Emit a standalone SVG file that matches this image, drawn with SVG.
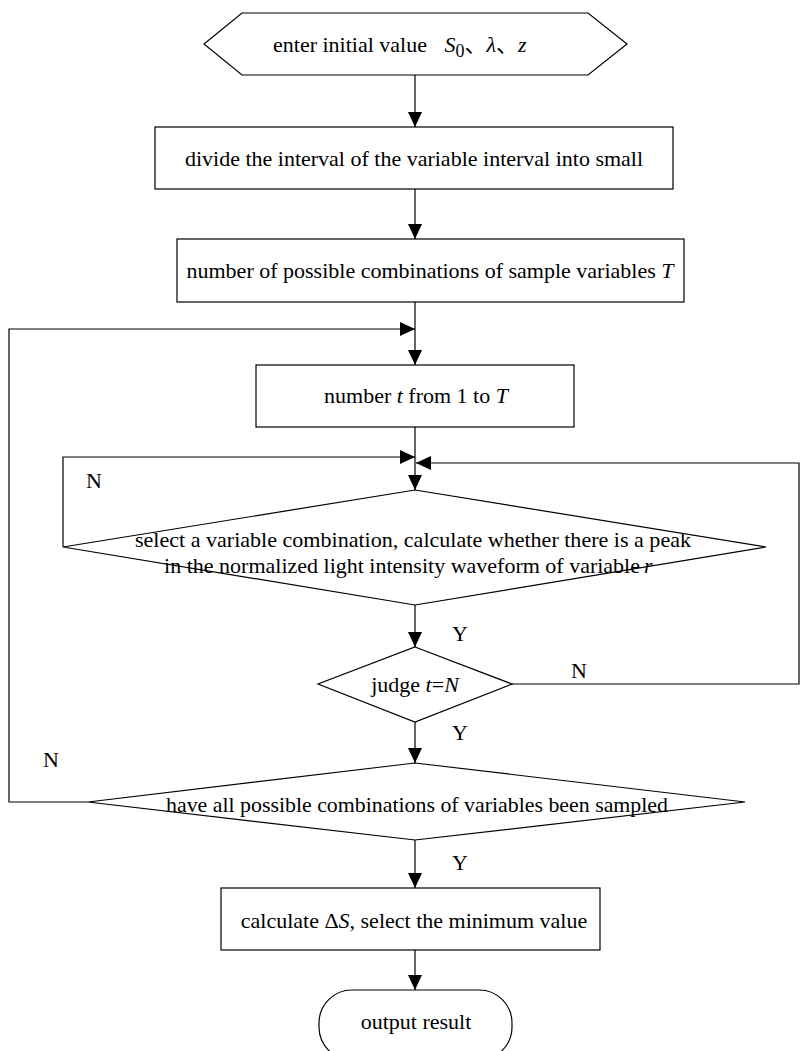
<svg xmlns="http://www.w3.org/2000/svg" width="800" height="1051" viewBox="0 0 800 1051">
<style>
.s{fill:#fff;stroke:#000;stroke-width:1.2}
.c{fill:none;stroke:#000;stroke-width:1.2}
text{font-family:"Liberation Serif","Noto Sans CJK SC",serif;font-size:22px;fill:#000}
.m{text-anchor:middle}
.i{font-style:italic}
</style>
<defs>
<marker id="a" viewBox="0 0 15 14" refX="15" refY="7" markerWidth="15" markerHeight="14" markerUnits="userSpaceOnUse" orient="auto">
<path d="M0,0 L15,7 L0,14 Z" fill="#000"/>
</marker>
</defs>
<rect width="800" height="1051" fill="#fff"/>
<g id="connectors">
<line class="c" x1="415" y1="75" x2="415" y2="127" marker-end="url(#a)"/>
<line class="c" x1="415" y1="189" x2="415" y2="239" marker-end="url(#a)"/>
<line class="c" x1="415" y1="302" x2="415" y2="365" marker-end="url(#a)"/>
<line class="c" x1="415" y1="427" x2="415" y2="490" marker-end="url(#a)"/>
<line class="c" x1="415" y1="605" x2="415" y2="647" marker-end="url(#a)"/>
<line class="c" x1="415" y1="722" x2="415" y2="763" marker-end="url(#a)"/>
<line class="c" x1="415" y1="840" x2="415" y2="888" marker-end="url(#a)"/>
<line class="c" x1="415" y1="950" x2="415" y2="990" marker-end="url(#a)"/>
<polyline class="c" points="88,802 9,802 9,329 415,329" marker-end="url(#a)"/>
<polyline class="c" points="63,547 63,457 415,457" marker-end="url(#a)"/>
<polyline class="c" points="512,684 799,684 799,463 416,463" marker-end="url(#a)"/>
<text x="86" y="488">N</text>
<text x="43" y="767">N</text>
<text x="571" y="678">N</text>
<text x="452" y="641">Y</text>
<text x="452" y="740">Y</text>
<text x="452" y="870">Y</text>
</g>
<g id="start">
<polygon class="s" points="204,44 242,13 588,13 627,44 588,75 242,75"/>
<text x="273" y="52">enter initial value <tspan class="i" dx="12">S</tspan><tspan dy="5" font-size="18">0</tspan><tspan dy="-5">、</tspan><tspan class="i">λ</tspan><tspan>、</tspan><tspan class="i">z</tspan></text>
</g>
<g id="divide">
<rect class="s" x="155" y="127" width="518" height="62"/>
<text class="m" x="414" y="166">divide the interval of the variable interval into small</text>
</g>
<g id="number">
<rect class="s" x="177" y="239" width="507" height="63"/>
<text class="m" x="430" y="278">number of possible combinations of sample variables <tspan class="i">T</tspan></text>
</g>
<g id="numbert">
<rect class="s" x="256" y="365" width="318" height="62"/>
<text class="m" x="416" y="403">number <tspan class="i">t</tspan> from 1 to <tspan class="i">T</tspan></text>
</g>
<g id="select">
<polygon class="s" points="415,490 766,547 415,605 63,547"/>
<text class="m" x="413" y="547" font-size="23" textLength="556" lengthAdjust="spacingAndGlyphs">select a variable combination, calculate whether there is a peak</text>
<text x="640" y="573" font-size="22" text-anchor="end">in the normalized light intensity waveform of variable</text>
<text class="i" x="644" y="573" font-size="23">r</text>
</g>
<g id="judge">
<polygon class="s" points="415,647 512,684 415,722 318,684"/>
<text class="m" x="415" y="692">judge <tspan class="i">t</tspan>=<tspan class="i">N</tspan></text>
</g>
<g id="sampled">
<polygon class="s" points="415,763 745,802 415,840 88,802"/>
<text class="m" x="417" y="812" font-size="23" textLength="502" lengthAdjust="spacingAndGlyphs">have all possible combinations of variables been sampled</text>
</g>
<g id="calc">
<rect class="s" x="221" y="888" width="379" height="62"/>
<text class="m" x="414" y="928">calculate Δ<tspan class="i">S</tspan>, select the minimum value</text>
</g>
<g id="output">
<rect class="s" x="319" y="990" width="193" height="70" rx="33" ry="33"/>
<text class="m" x="416" y="1029">output result</text>
</g>
</svg>
